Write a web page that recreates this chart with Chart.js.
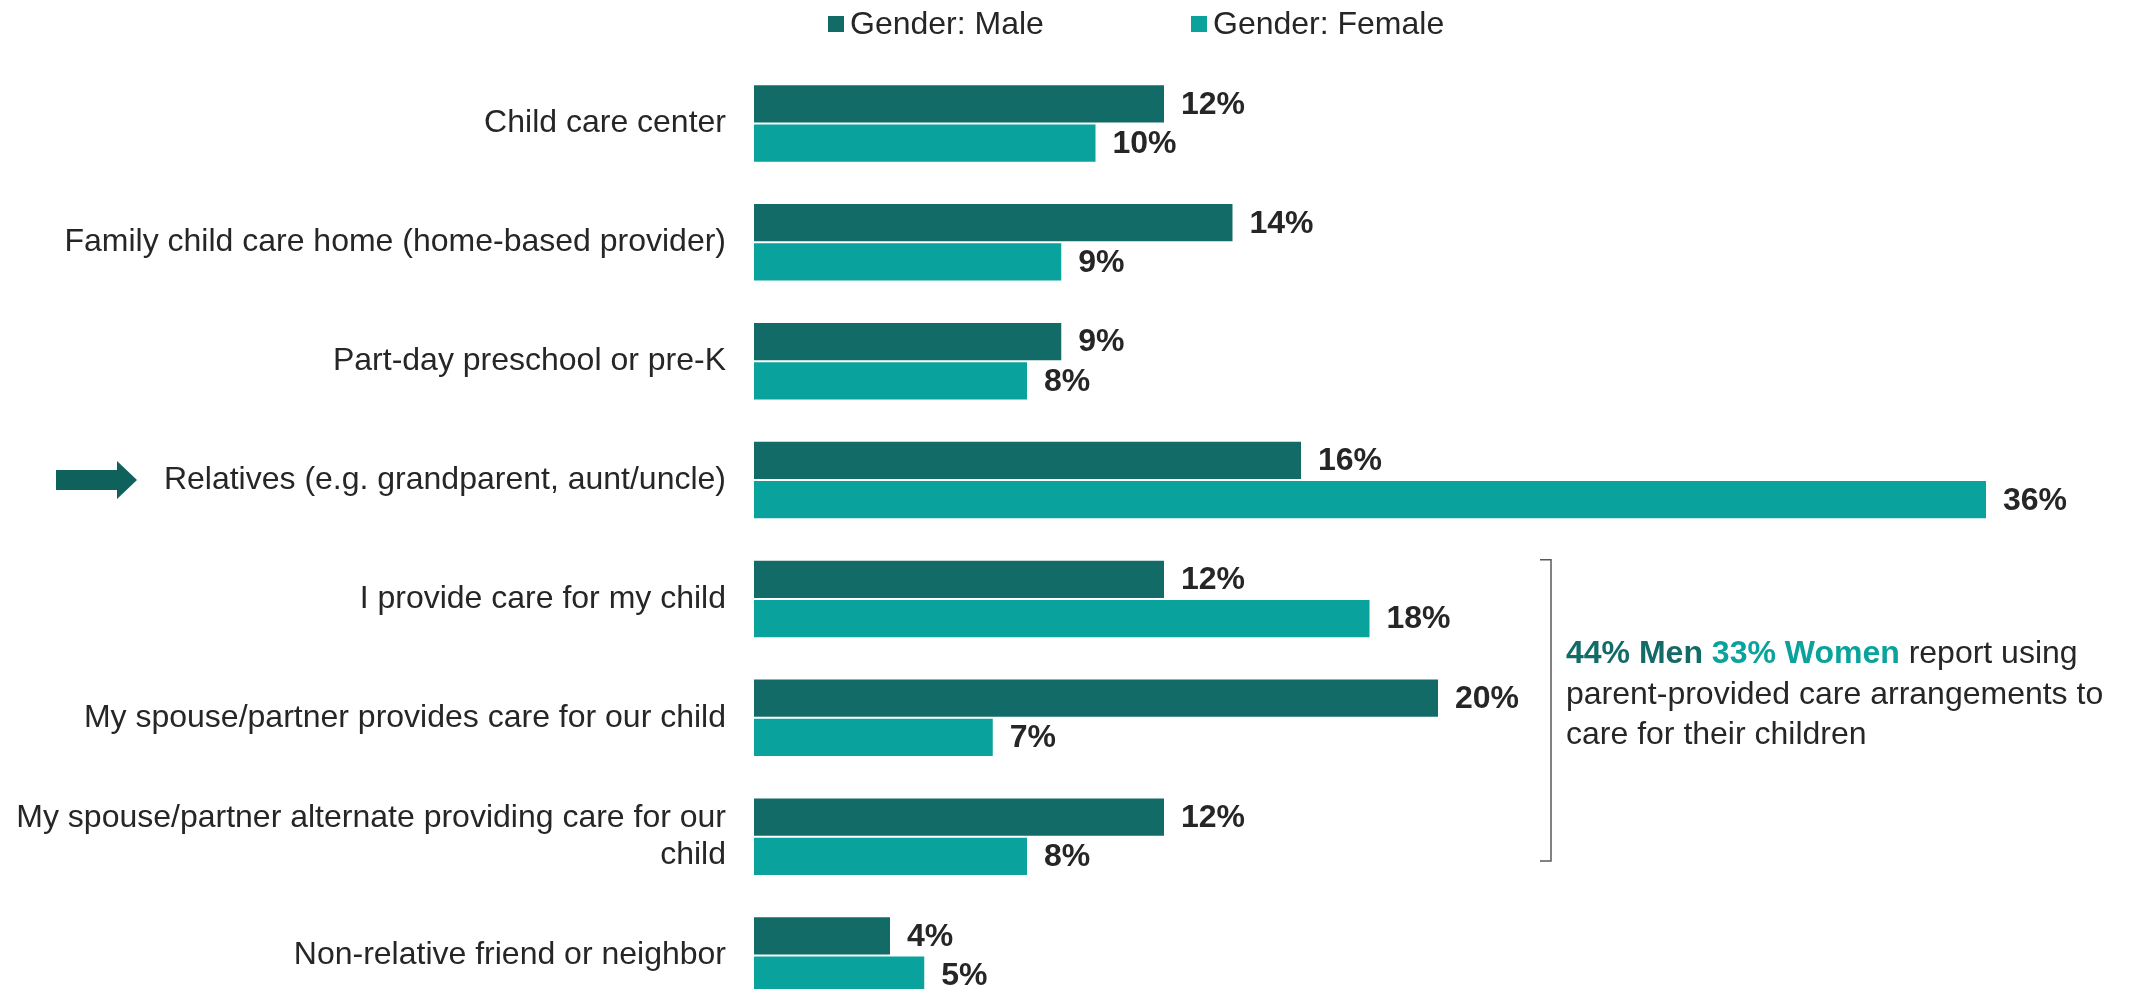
<!DOCTYPE html>
<html>
<head>
<meta charset="utf-8">
<script src="https://cdn.jsdelivr.net/npm/chart.js@4.4.1/dist/chart.umd.min.js"></script>
<style>
    html, body { margin: 0; padding: 0; background: #fff; overflow: hidden; width: 2139px; height: 989px; }
    #careChart { display: block; width: 2139px; height: 1063px; }
</style>
</head>
<body>
<canvas id="careChart" width="2139" height="1063"></canvas>
<script>
// --- Data ---
const categories = [
    'Child care center',
    'Family child care home (home-based provider)',
    'Part-day preschool or pre-K',
    'Relatives (e.g. grandparent, aunt/uncle)',
    'I provide care for my child',
    'My spouse/partner provides care for our child',
    ['My spouse/partner alternate providing care for our', 'child'],
    'Non-relative friend or neighbor'
];
const seriesNames = ['Gender: Male', 'Gender: Female'];
const maleValues = [12, 14, 9, 16, 12, 20, 12, 4];
const femaleValues = [10, 9, 8, 36, 18, 7, 8, 5];
const highlightIndex = 3;          // row with the arrow
const bracketRows = [4, 6];        // parent-provided care rows

// --- Styles ---
const MALE = '#136b67';
const FEMALE = '#0aa29c';
const TEXT = '#262626';
const FONT = '"Liberation Sans", Arial, sans-serif';

const overlayPlugin = {
    id: 'overlay',
    afterDatasetsDraw(chart) {
        const ctx = chart.ctx;
        const y = chart.scales.y;
        ctx.save();

        // value labels
        ctx.font = `bold 32px ${FONT}`;
        ctx.fillStyle = TEXT;
        ctx.textAlign = 'left';
        ctx.textBaseline = 'middle';
        chart.data.datasets.forEach((ds, i) => {
            chart.getDatasetMeta(i).data.forEach((bar, j) => {
                ctx.fillText(ds.data[j] + '%', bar.x + 16, bar.y + 1);
            });
        });

        // legend
        ctx.font = `32px ${FONT}`;
        const legendItems = [
            { text: seriesNames[0], color: MALE, x: 828 },
            { text: seriesNames[1], color: FEMALE, x: 1191 }
        ];
        legendItems.forEach(it => {
            ctx.fillStyle = it.color;
            ctx.fillRect(it.x, 16, 16, 16);
            ctx.fillStyle = TEXT;
            ctx.fillText(it.text, it.x + 22, 25);
        });

        // arrow next to highlighted row
        const ay = y.getPixelForValue(highlightIndex);
        ctx.fillStyle = '#0f625c';
        ctx.beginPath();
        ctx.moveTo(56, ay - 10);
        ctx.lineTo(117, ay - 10);
        ctx.lineTo(117, ay - 19);
        ctx.lineTo(137, ay);
        ctx.lineTo(117, ay + 19);
        ctx.lineTo(117, ay + 10);
        ctx.lineTo(56, ay + 10);
        ctx.closePath();
        ctx.fill();

        // bracket
        const meta0 = chart.getDatasetMeta(0).data;
        const meta1 = chart.getDatasetMeta(1).data;
        const top = meta0[bracketRows[0]].y - meta0[bracketRows[0]].height / 2;
        const bottom = meta1[bracketRows[1]].y + meta1[bracketRows[1]].height / 2 - 15;
        ctx.strokeStyle = '#595959';
        ctx.lineWidth = 1.5;
        ctx.beginPath();
        ctx.moveTo(1540, top);
        ctx.lineTo(1551, top);
        ctx.lineTo(1551, bottom);
        ctx.lineTo(1540, bottom);
        ctx.stroke();

        // annotation text
        const tx = 1566;
        const ty = (top + bottom) / 2 - 56;
        let x = tx;
        const runs = [
            { t: '44% Men ', c: MALE, b: true },
            { t: '33% Women', c: FEMALE, b: true },
            { t: ' report using', c: TEXT, b: false }
        ];
        runs.forEach(r => {
            ctx.font = `${r.b ? 'bold ' : ''}32px ${FONT}`;
            ctx.fillStyle = r.c;
            ctx.fillText(r.t, x, ty);
            x += ctx.measureText(r.t).width;
        });
        ctx.font = `32px ${FONT}`;
        ctx.fillStyle = TEXT;
        ctx.fillText('parent-provided care arrangements to', tx, ty + 40.5);
        ctx.fillText('care for their children', tx, ty + 81);

        ctx.restore();
    }
};

new Chart(document.getElementById('careChart'), {
    type: 'bar',
    data: {
        labels: categories,
        datasets: [
            { label: seriesNames[0], data: maleValues, backgroundColor: MALE, borderColor: 'rgba(255,255,255,0.35)', borderWidth: 1 },
            { label: seriesNames[1], data: femaleValues, backgroundColor: FEMALE, borderColor: 'rgba(255,255,255,0.35)', borderWidth: 1 }
        ]
    },
    options: {
        indexAxis: 'y',
        responsive: false,
        maintainAspectRatio: false,
        animation: false,
        layout: { padding: { top: 64, right: 15, bottom: 48, left: 0 } },
        datasets: { bar: { barPercentage: 1.0, categoryPercentage: 0.66 } },
        plugins: {
            legend: { display: false },
            tooltip: { enabled: false }
        },
        scales: {
            x: {
                display: false,
                min: 0,
                max: 40
            },
            y: {
                grid: { display: false, drawTicks: false },
                border: { display: false },
                afterFit: scale => { scale.width = 754; },
                ticks: {
                    color: TEXT,
                    padding: 28,
                    font: { family: FONT, size: 32, lineHeight: 1.15 }
                }
            }
        }
    },
    plugins: [overlayPlugin]
});
</script>
</body>
</html>
